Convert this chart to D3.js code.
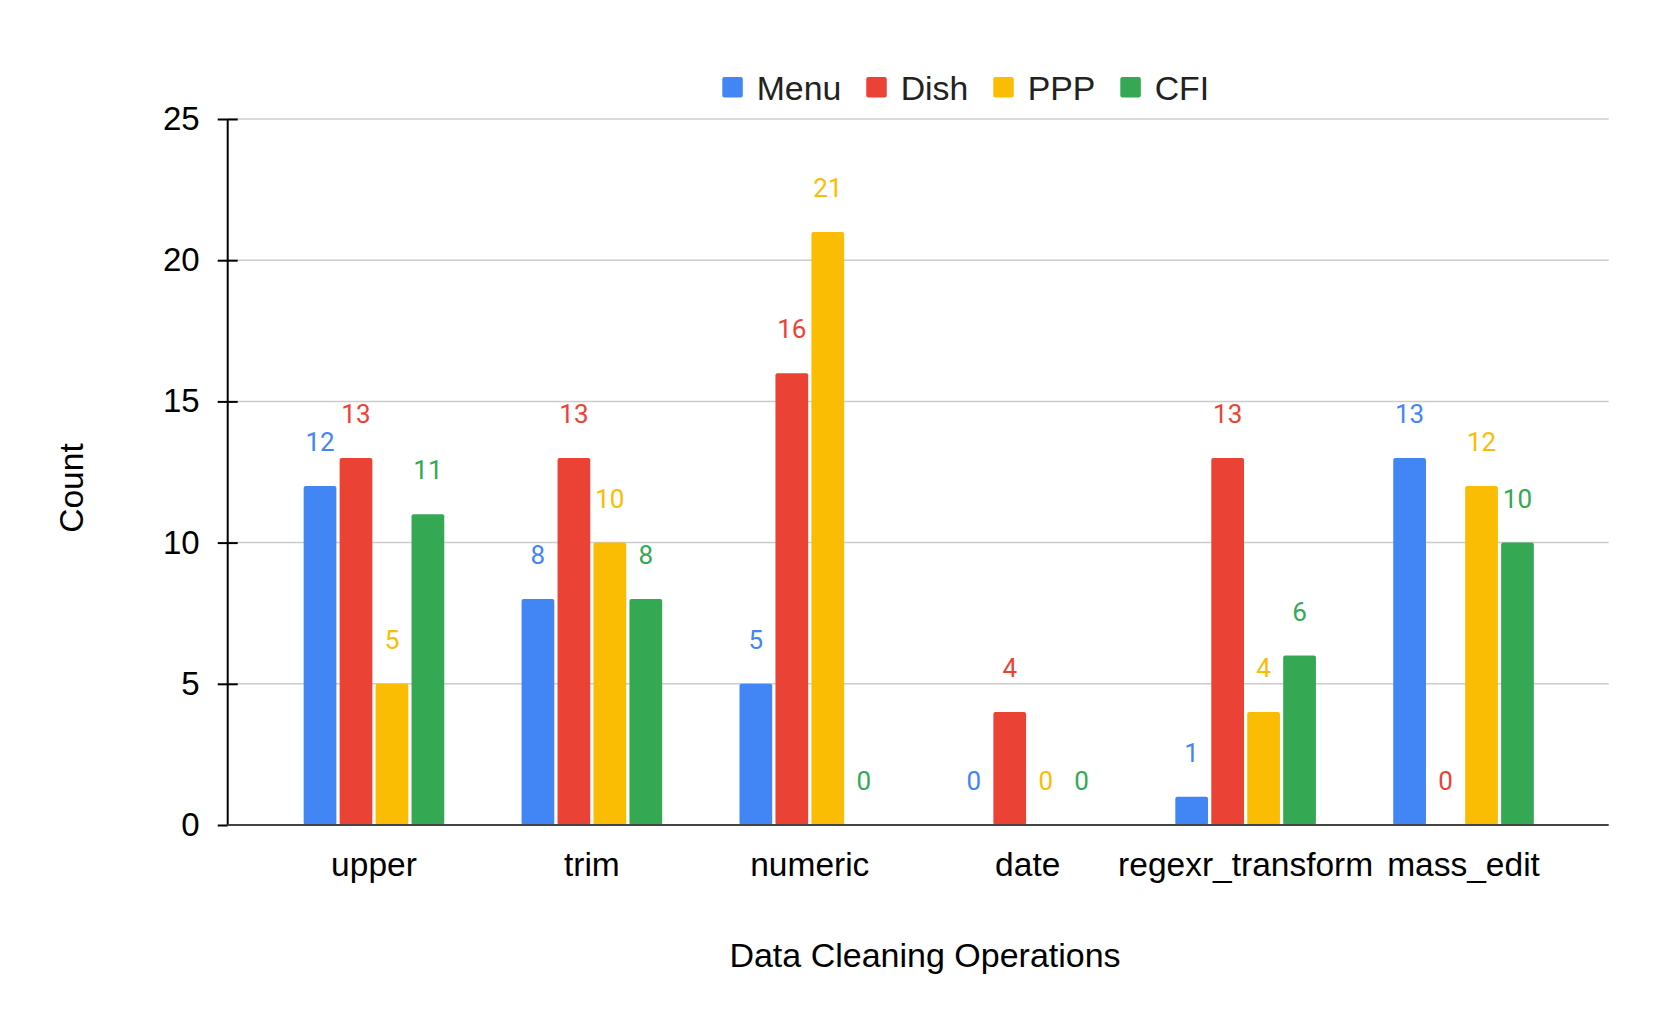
<!DOCTYPE html>
<html>
<head>
<meta charset="utf-8">
<script src="https://cdn.jsdelivr.net/npm/d3@7"></script>
<style>
  body { margin: 0; background: #fff; }
  svg { display: block; }
</style>
</head>
<body>
<svg id="chart"></svg>
<script>
const categories = ["upper", "trim", "numeric", "date", "regexr_transform", "mass_edit"];
const seriesNames = ["Menu", "Dish", "PPP", "CFI"];
const menuValues = [12, 8, 5, 0, 1, 13];
const dishValues = [13, 13, 16, 4, 13, 0];
const pppValues = [5, 10, 21, 0, 4, 12];
const cfiValues = [11, 8, 0, 0, 6, 10];
const yTicks = [0, 5, 10, 15, 20, 25];
const colors = ["#4285F4", "#EA4335", "#FBBC04", "#34A853"];

const seriesValues = [menuValues, dishValues, pppValues, cfiValues];
const data = categories.map((c, i) => ({
  name: c,
  values: seriesNames.map((s, j) => ({ key: s, value: seriesValues[j][i], color: colors[j] }))
}));

const W = 1661, H = 1027;
const axisX = 227.7, plotRight = 1608.7;
const yTop = 119, yBottom = 825;
const font = "'Liberation Sans', Arial, sans-serif";

const svg = d3.select("#chart").attr("width", W).attr("height", H);
svg.append("rect").attr("width", W).attr("height", H).attr("fill", "#fff");

const y = d3.scaleLinear().domain([0, 25]).range([yBottom, yTop]);
const x0 = d3.scaleBand().domain(categories).range([265, 1572.5]).padding(0);
const x1 = d3.scaleBand().domain(seriesNames).range([0, x0.bandwidth()])
  .paddingInner(0.09).paddingOuter(1.075);

// grid lines
svg.append("g").selectAll("line")
  .data(yTicks.filter(d => d > 0))
  .enter().append("line")
  .attr("x1", axisX).attr("x2", plotRight)
  .attr("y1", d => y(d)).attr("y2", d => y(d))
  .attr("stroke", "#cccccc").attr("stroke-width", 1.5);

// bars
const groups = svg.append("g").selectAll("g")
  .data(data).enter().append("g")
  .attr("transform", d => `translate(${x0(d.name)},0)`);

groups.selectAll("rect")
  .data(d => d.values.filter(v => v.value > 0))
  .enter().append("rect")
  .attr("x", d => x1(d.key))
  .attr("y", d => y(d.value))
  .attr("width", x1.bandwidth())
  .attr("height", d => yBottom - y(d.value))
  .attr("rx", 2)
  .attr("fill", d => d.color);

groups.selectAll("text")
  .data(d => d.values)
  .enter().append("text")
  .attr("x", d => x1(d.key) + x1.bandwidth() / 2)
  .attr("y", d => y(d.value) - 35)
  .attr("text-anchor", "middle")
  .attr("font-family", "Roboto, sans-serif")
  .attr("font-size", 26)
  .attr("fill", d => d.color)
  .text(d => d.value);

// y axis
const yAxis = svg.append("g")
  .attr("transform", `translate(${axisX},0)`)
  .call(d3.axisLeft(y).tickValues(yTicks).tickSize(10).tickPadding(18));
yAxis.select(".domain").remove();
yAxis.selectAll(".tick line").attr("stroke", "#000").attr("stroke-width", 2);
yAxis.selectAll("text").attr("font-family", font).attr("font-size", 33).attr("fill", "#000");

const yAxisR = svg.append("g")
  .attr("transform", `translate(${axisX},0)`)
  .call(d3.axisRight(y).tickValues(yTicks.filter(d => d > 0)).tickSize(10).tickFormat(""));
yAxisR.select(".domain").remove();
yAxisR.selectAll(".tick line").attr("stroke", "#000").attr("stroke-width", 2);

svg.append("line")
  .attr("x1", axisX).attr("x2", axisX)
  .attr("y1", yTop).attr("y2", yBottom)
  .attr("stroke", "#000").attr("stroke-width", 2);

// baseline
svg.append("line")
  .attr("x1", axisX).attr("x2", plotRight)
  .attr("y1", yBottom).attr("y2", yBottom)
  .attr("stroke", "#444").attr("stroke-width", 2);

// x axis
const xAxis = svg.append("g")
  .attr("transform", `translate(0,${yBottom})`)
  .call(d3.axisBottom(x0).tickSize(0).tickPadding(27));
xAxis.select(".domain").remove();
xAxis.selectAll("text").attr("font-family", font).attr("font-size", 33.5).attr("fill", "#000");

// axis titles
svg.append("text")
  .attr("x", 925).attr("y", 967)
  .attr("text-anchor", "middle")
  .attr("font-family", font).attr("font-size", 34).attr("fill", "#000")
  .text("Data Cleaning Operations");

svg.append("text")
  .attr("transform", "translate(83.3,488) rotate(-90)")
  .attr("text-anchor", "middle")
  .attr("font-family", font).attr("font-size", 33.5).attr("fill", "#000")
  .text("Count");

// legend
const legend = svg.append("g");
let lx = 722.3;
seriesNames.forEach((s, i) => {
  legend.append("rect")
    .attr("x", lx).attr("y", 77).attr("width", 20.5).attr("height", 20.5)
    .attr("rx", 2).attr("fill", colors[i]);
  const t = legend.append("text")
    .attr("x", lx + 34.4).attr("y", 100)
    .attr("font-family", font).attr("font-size", 33.8).attr("fill", "#222")
    .text(s);
  lx += 34.4 + t.node().getComputedTextLength() + 25;
});
</script>
</body>
</html>
